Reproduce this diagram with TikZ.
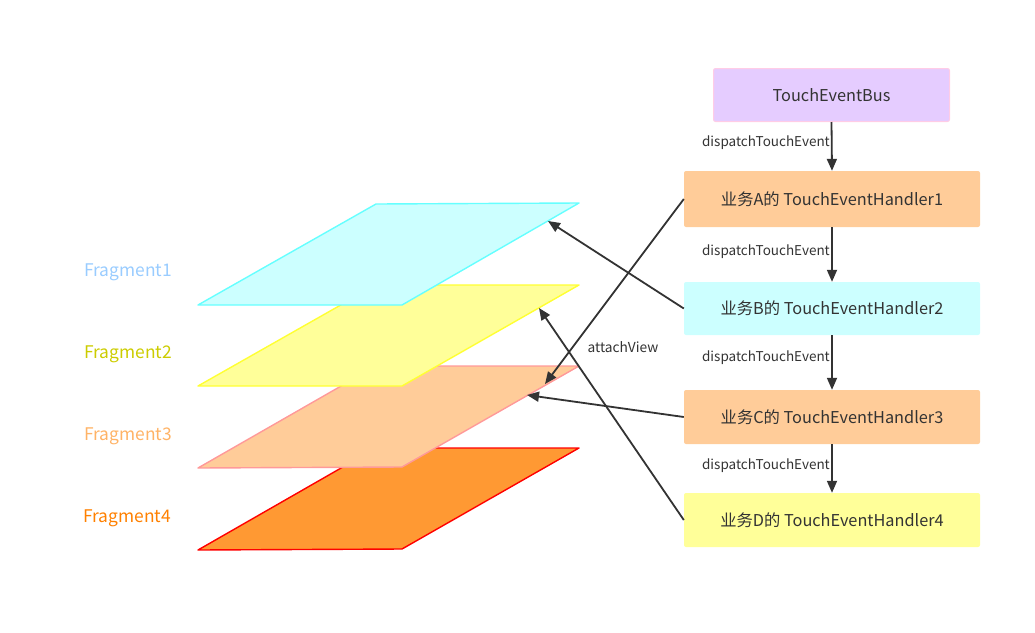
\documentclass[tikz,border=0pt]{standalone}
\usepackage{fontspec}
\setmainfont{Noto Sans CJK SC}
\usetikzlibrary{arrows.meta}
\definecolor{txt}{HTML}{333333}
\definecolor{cyanF}{HTML}{CCFFFF}
\definecolor{cyanD}{HTML}{66FFFF}
\definecolor{yelF}{HTML}{FFFF99}
\definecolor{yelD}{HTML}{FFFF33}
\definecolor{peaF}{HTML}{FFCC99}
\definecolor{peaD}{HTML}{FF9999}
\definecolor{orF}{HTML}{FF9933}
\definecolor{orD}{HTML}{FF0000}
\definecolor{busF}{HTML}{E5CCFF}
\definecolor{busD}{HTML}{FFCCE6}
\definecolor{fr1}{HTML}{99CCFF}
\definecolor{fr2}{HTML}{CCCC00}
\definecolor{fr3}{HTML}{FFB366}
\definecolor{fr4}{HTML}{FF8000}
\tikzset{
  box/.style={rectangle, rounded corners=2pt, minimum width=296pt, inner sep=0pt, text=txt, font=\fontsize{16.3}{18}\selectfont},
  lbl/.style={anchor=east, inner sep=0pt, text=txt, font=\fontsize{13.5}{15}\selectfont},
  conn/.style={draw=txt, line width=1.8pt, -{Triangle[length=12pt,width=10pt]}},
  frag/.style={line width=1.4pt, line join=round},
  fraglbl/.style={anchor=west, inner sep=0pt, font=\fontsize{17.4}{19}\selectfont}
}
\begin{document}
\begin{tikzpicture}[x=1pt,y=-1pt]
\useasboundingbox (0,0) rectangle (1035,632);
% fragments
\draw[frag, fill=orF, draw=orD] (198,550) -- (376,448) -- (579,448) -- (402,549) -- cycle;
\draw[frag, fill=peaF, draw=peaD] (198,468) -- (376,366) -- (579,366) -- (402,467) -- cycle;
\draw[frag, fill=yelF, draw=yelD] (198,386) -- (376,285) -- (579,285) -- (402,386) -- cycle;
\draw[frag, fill=cyanF, draw=cyanD] (198,305) -- (376,204) -- (579,203) -- (402,305) -- cycle;
\coordinate (t1) at (548,221);
\coordinate (t2) at (539,308);
\coordinate (t3a) at (545,384);
\coordinate (t3b) at (527,395);
\node[fraglbl, text=fr1] (l1) at (84,272) {Fragment1};
\node[fraglbl, text=fr2] (l2) at (84,354) {Fragment2};
\node[fraglbl, text=fr3] (l3) at (84,436) {Fragment3};
\node[fraglbl, text=fr4] (l4) at (83,518) {Fragment4};
% boxes
\node[box, fill=busF, draw=busD, line width=1pt, minimum width=236pt, minimum height=53pt] (bus) at (831.5,95) {TouchEventBus};
\node[box, fill=peaF, minimum height=56pt] (h1) at (832,199) {业务A的 TouchEventHandler1};
\node[box, fill=cyanF, minimum height=53pt] (h2) at (832,308.5) {业务B的 TouchEventHandler2};
\node[box, fill=peaF, minimum height=54pt] (h3) at (832,417) {业务C的 TouchEventHandler3};
\node[box, fill=yelF, minimum height=54pt] (h4) at (832,520) {业务D的 TouchEventHandler4};
\draw[conn] (bus.south) -- (h1.north);
\draw[conn] (h1.south) -- (h2.north);
\draw[conn] (h2.south) -- (h3.north);
\draw[conn] (h3.south) -- (h4.north);
\node[lbl] (d1) at (830,143) {dispatchTouchEvent};
\node[lbl] (d2) at (830,252) {dispatchTouchEvent};
\node[lbl] (d3) at (830,358) {dispatchTouchEvent};
\node[lbl] (d4) at (830,466) {dispatchTouchEvent};
% attach arrows
\draw[conn] (h1.west) -- (t3a);
\draw[conn] (h2.west) -- (t1);
\draw[conn] (h3.west) -- (t3b);
\draw[conn] (h4.west) -- (t2);
\node[text=txt, inner sep=0pt, font=\fontsize{13.75}{15}\selectfont] (av) at (623,347) {attachView};
\end{tikzpicture}
\end{document}
